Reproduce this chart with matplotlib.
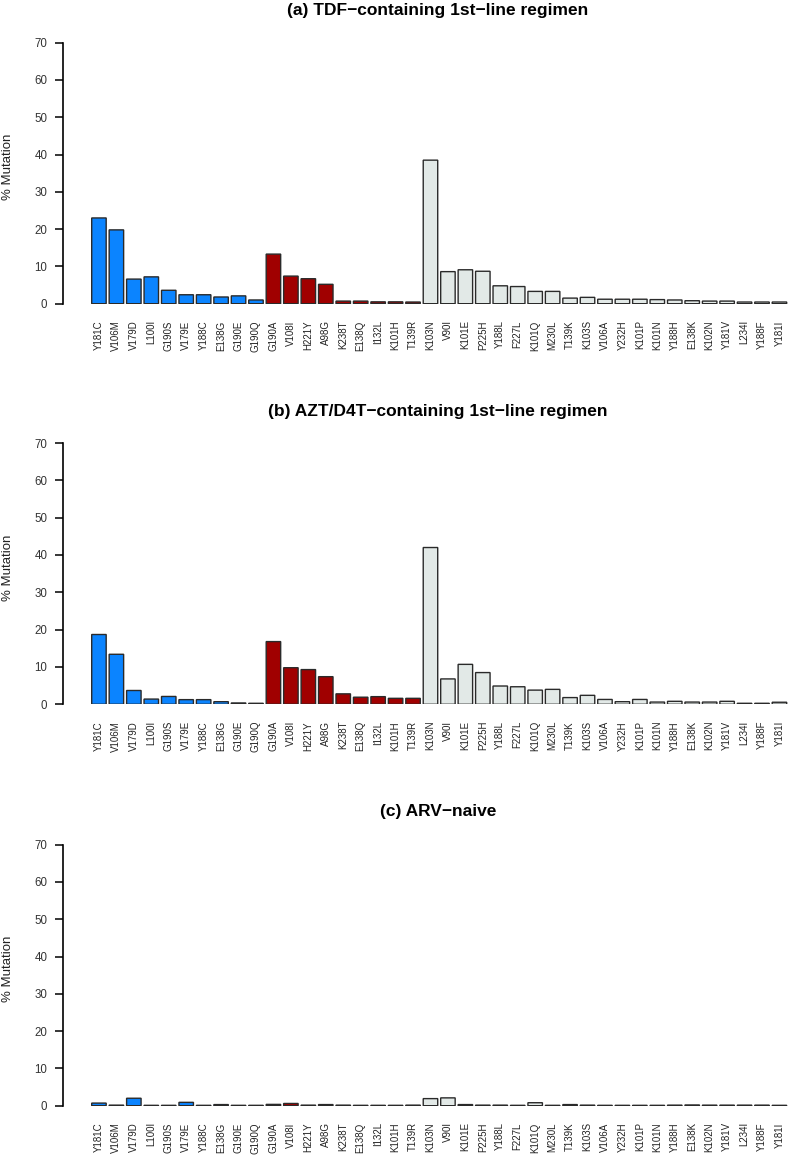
import matplotlib
matplotlib.use("Agg")
import matplotlib.pyplot as plt
import numpy as np

plt.rcParams['font.family'] = ['Liberation Sans', 'DejaVu Sans']

mutations = ['Y181C', 'V106M', 'V179D', 'L100I', 'G190S', 'V179E', 'Y188C', 'E138G', 'G190E', 'G190Q',
             'G190A', 'V108I', 'H221Y', 'A98G', 'K238T', 'E138Q', 'I132L', 'K101H', 'T139R',
             'K103N', 'V90I', 'K101E', 'P225H', 'Y188L', 'F227L', 'K101Q', 'M230L', 'T139K', 'K103S',
             'V106A', 'Y232H', 'K101P', 'K101N', 'Y188H', 'E138K', 'K102N', 'Y181V', 'L234I', 'Y188F', 'Y181I']
# group of each mutation: 0 = blue, 1 = red, 2 = grey
groups = [0] * 10 + [1] * 9 + [2] * 21

tdf = [23.0, 19.8, 6.6, 7.2, 3.6, 2.4, 2.4, 1.8, 2.1, 1.0,
       13.3, 7.4, 6.7, 5.2, 0.7, 0.7, 0.5, 0.5, 0.45,
       38.5, 8.6, 9.1, 8.7, 4.8, 4.6, 3.3, 3.3, 1.5, 1.7,
       1.2, 1.2, 1.2, 1.1, 1.0, 0.8, 0.7, 0.7, 0.45, 0.45, 0.45]
azt = [18.7, 13.4, 3.7, 1.4, 2.1, 1.25, 1.25, 0.7, 0.36, 0.27,
       16.8, 9.8, 9.3, 7.4, 2.8, 1.9, 2.05, 1.6, 1.6,
       42.0, 6.8, 10.7, 8.5, 4.9, 4.7, 3.8, 4.0, 1.8, 2.4,
       1.3, 0.7, 1.3, 0.6, 0.8, 0.6, 0.6, 0.8, 0.27, 0.27, 0.55]
naive = [0.7, 0.15, 2.0, 0.1, 0.1, 0.9, 0.1, 0.3, 0.1, 0.1,
         0.35, 0.6, 0.15, 0.3, 0.15, 0.1, 0.1, 0.1, 0.15,
         1.9, 2.1, 0.3, 0.15, 0.15, 0.1, 0.8, 0.1, 0.3, 0.15,
         0.1, 0.1, 0.1, 0.1, 0.15, 0.2, 0.15, 0.15, 0.15, 0.15, 0.1]

titles = ['(a) TDF\u2212containing 1st\u2212line regimen',
          '(b) AZT/D4T\u2212containing 1st\u2212line regimen',
          '(c) ARV\u2212naive']
panel_values = [tdf, azt, naive]

colors = ['#0B84FF', '#A00000', '#E2E9E7']
bar_colors = [colors[g] for g in groups]

W, H = 788, 1155
fig = plt.figure(figsize=(W / 100, H / 100), dpi=100)

# pixel positions of the y = 70 and y = 0 lines for each panel
panel_px = [(42.7, 303.7), (443.0, 704.3), (844.7, 1105.7)]
title_px = [10.0, 411.7, 811.7]

x = np.arange(len(mutations))
for vals, title, (top, bot), ty in zip(panel_values, titles, panel_px, title_px):
    ax = fig.add_axes([63 / W, 1 - bot / H, (W - 63) / W, (bot - top) / H])
    ax.bar(x, vals, width=0.83, color=bar_colors, edgecolor='#2a2a2a', linewidth=1.0, snap=False)
    ax.set_xlim(-2.06, 39.49)
    ax.set_ylim(0, 70)
    ax.set_yticks(np.arange(0, 71, 10))
    ax.set_xticks(x)
    ax.set_xticklabels(mutations, rotation=90, fontsize=7.0, color='#222222', va='top')
    ax.tick_params(axis='x', length=0, pad=12)
    ax.tick_params(axis='y', length=5.8, width=1.1, pad=5.5, labelsize=8.3, labelcolor='#333333')
    for s in ['top', 'right', 'bottom']:
        ax.spines[s].set_visible(False)
    ax.spines['left'].set_linewidth(1.2)
    ax.spines['left'].set_bounds(0, 70)
    fig.text(438 / W, 1 - ty / H, title, ha='center', va='center', fontsize=12.5, fontweight='bold')
    fig.text(8 / W, 1 - ((top + bot) / 2 - 6) / H, '% Mutation', rotation=90,
             ha='center', va='center', fontsize=9.5, color='#222222')

fig.savefig('out.png', dpi=100)
